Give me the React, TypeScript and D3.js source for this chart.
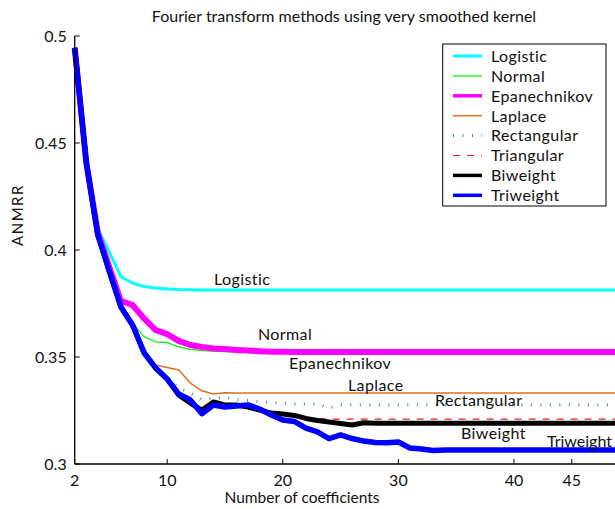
import React from "react"
import * as d3 from "d3"

// x = number of coefficients, 2..49
const coefs = d3.range(2, 50)

const logistic = [
  0.4945, 0.441, 0.410, 0.399, 0.3875, 0.3846, 0.3829, 0.3822, 0.3818, 0.3815,
  0.3814, 0.3813, 0.3813, 0.3813, 0.3813, 0.3813, 0.3813, 0.3813, 0.3813, 0.3813,
  0.3813, 0.3813, 0.3813, 0.3813, 0.3813, 0.3813, 0.3813, 0.3813, 0.3813, 0.3813,
  0.3813, 0.3813, 0.3813, 0.3813, 0.3813, 0.3813, 0.3813, 0.3813, 0.3813, 0.3813,
  0.3813, 0.3813, 0.3813, 0.3813, 0.3813, 0.3813, 0.3813, 0.3813,
]
const normal = [
  0.4945, 0.441, 0.407, 0.390, 0.3735, 0.366, 0.3595, 0.3571, 0.3567, 0.3547,
  0.3536, 0.353, 0.3527, 0.3525, 0.3524, 0.3524, 0.3523, 0.3523, 0.3523, 0.3523,
  0.3523, 0.3523, 0.3523, 0.3523, 0.3523, 0.3523, 0.3523, 0.3523, 0.3523, 0.3523,
  0.3523, 0.3523, 0.3523, 0.3523, 0.3523, 0.3523, 0.3523, 0.3523, 0.3523, 0.3523,
  0.3523, 0.3523, 0.3523, 0.3523, 0.3523, 0.3523, 0.3523, 0.3523,
]
const epanechnikov = [
  0.4945, 0.441, 0.408, 0.392, 0.3762, 0.3743, 0.368, 0.3626, 0.3607, 0.3575,
  0.3556, 0.3547, 0.354, 0.3537, 0.3533, 0.353, 0.3527, 0.3525, 0.3524, 0.3523,
  0.3523, 0.3523, 0.3523, 0.3523, 0.3523, 0.3523, 0.3523, 0.3523, 0.3523, 0.3523,
  0.3523, 0.3523, 0.3523, 0.3523, 0.3523, 0.3523, 0.3523, 0.3523, 0.3523, 0.3523,
  0.3523, 0.3523, 0.3523, 0.3523, 0.3523, 0.3523, 0.3523, 0.3523,
]
const laplace = [
  0.4945, 0.441, 0.407, 0.390, 0.3738, 0.365, 0.353, 0.3463, 0.3451, 0.3439,
  0.3378, 0.3342, 0.3327, 0.3333, 0.3332, 0.3332, 0.3332, 0.3332, 0.3332, 0.3332,
  0.3332, 0.3332, 0.3332, 0.3332, 0.3332, 0.3332, 0.3332, 0.3332, 0.3332, 0.3332,
  0.3332, 0.3332, 0.3332, 0.3332, 0.3332, 0.3332, 0.3332, 0.3332, 0.3332, 0.3332,
  0.3332, 0.3332, 0.3332, 0.3332, 0.3332, 0.3332, 0.3332, 0.3332,
]
const rectangular = [
  0.4945, 0.441, 0.407, 0.390, 0.3734, 0.365, 0.352, 0.3449, 0.3399, 0.3355,
  0.3332, 0.3301, 0.3307, 0.3312, 0.3301, 0.3297, 0.3291, 0.3287, 0.3284, 0.328,
  0.328, 0.328, 0.3262, 0.3277, 0.3277, 0.3277, 0.3277, 0.3277, 0.3277, 0.3277,
  0.3277, 0.3277, 0.3277, 0.3277, 0.3277, 0.3277, 0.3277, 0.3277, 0.3277, 0.3277,
  0.3277, 0.3277, 0.3277, 0.3277, 0.3277, 0.3277, 0.3277, 0.3277,
]
const triangular = [
  0.4945, 0.441, 0.407, 0.390, 0.3734, 0.365, 0.352, 0.3449, 0.3397, 0.3335,
  0.3300, 0.3255, 0.3290, 0.3278, 0.3278, 0.3268, 0.3255, 0.3242, 0.3238, 0.3230,
  0.3218, 0.3212, 0.321, 0.321, 0.321, 0.321, 0.321, 0.321, 0.321, 0.321,
  0.321, 0.321, 0.321, 0.321, 0.321, 0.321, 0.321, 0.321, 0.321, 0.321,
  0.321, 0.321, 0.321, 0.321, 0.321, 0.321, 0.321, 0.321,
]
const biweight = [
  0.4945, 0.441, 0.407, 0.390, 0.3734, 0.365, 0.352, 0.3449, 0.3397, 0.3322,
  0.3285, 0.3252, 0.329, 0.3276, 0.3276, 0.3266, 0.3252, 0.3238, 0.3234, 0.3227,
  0.3213, 0.3203, 0.3196, 0.3189, 0.3182, 0.3193, 0.319, 0.319, 0.319, 0.319,
  0.319, 0.319, 0.319, 0.319, 0.319, 0.319, 0.319, 0.319, 0.319, 0.319,
  0.319, 0.319, 0.319, 0.319, 0.319, 0.319, 0.319, 0.319,
]
const triweight = [
  0.4945, 0.441, 0.407, 0.390, 0.3734, 0.365, 0.352, 0.3449, 0.3397, 0.3327,
  0.3299, 0.3235, 0.3276, 0.3266, 0.3271, 0.3276, 0.3257, 0.3229, 0.3206, 0.3199,
  0.3168, 0.315, 0.3119, 0.3136, 0.3119, 0.3107, 0.31, 0.3099, 0.3103, 0.3075,
  0.307, 0.3063, 0.3065, 0.3065, 0.3065, 0.3065, 0.3065, 0.3065, 0.3065, 0.3065,
  0.3065, 0.3065, 0.3065, 0.3065, 0.3065, 0.3065, 0.3065, 0.3065,
]

const xTicks = [2, 10, 20, 30, 40, 45]
const yTicks = [0.3, 0.35, 0.4, 0.45, 0.5]

const series = [
  { name: "Logistic", values: logistic, color: "#00ffff", width: 3, dash: null, label: [214, 285], ls: 0.4 },
  { name: "Normal", values: normal, color: "#00ee00", width: 1.2, dash: null, label: [258, 340], ls: 0.4 },
  { name: "Epanechnikov", values: epanechnikov, color: "#ff00ff", width: 6, dash: null, label: [289, 369], ls: 0.4 },
  { name: "Laplace", values: laplace, color: "#e07020", width: 1.5, dash: null, label: [348, 391], ls: 0.4 },
  { name: "Rectangular", values: rectangular, color: "#2a9d9d", width: 3, dash: "1,8.5", label: [435, 406], ls: 0.4 },
  { name: "Triangular", values: triangular, color: "#e82020", width: 1.2, dash: "7,7", label: null, ls: 0.4 },
  { name: "Biweight", values: biweight, color: "#000000", width: 5, dash: null, label: [461, 439], ls: 0.4 },
  { name: "Triweight", values: triweight, color: "#0000ff", width: 5.5, dash: null, label: [547, 447], ls: 0 },
]

const font = "Lato, 'Open Sans', sans-serif"

export default function App() {
  const x = d3.scaleLinear().domain([2, 50]).range([74.7, 629.6])
  const y = d3.scaleLinear().domain([0.3, 0.5]).range([464, 36])
  const line = d3.line<number>()
    .x((d, i) => x(coefs[i]))
    .y(d => y(d))

  return (
    <svg width={615} height={509} style={{ position: "absolute", left: 0, top: 0, background: "#fff" }}>
      <text x={344} y={22} textAnchor="middle" fontFamily={font} fontSize={16} fill="#111">
        Fourier transform methods using very smoothed kernel
      </text>

      {series.map(s => (
        <path key={s.name} d={line(s.values) || ""} fill="none" stroke={s.color}
          strokeWidth={s.width} strokeDasharray={s.dash || undefined} strokeLinejoin="round" />
      ))}

      {/* axes */}
      <line x1={x(2)} x2={x(2)} y1={y(0.5)} y2={y(0.3)} stroke="#000" strokeWidth={1.3} />
      <line x1={x(2)} x2={615} y1={y(0.3)} y2={y(0.3)} stroke="#000" strokeWidth={1.3} />
      {yTicks.map(t => (
        <g key={t}>
          <line x1={x(2)} x2={x(2) + 5} y1={y(t)} y2={y(t)} stroke="#000" />
          <text x={x(2) - 8} y={y(t) + 5.5} textAnchor="end" fontFamily={font} fontSize={16} fill="#111">
            {d3.format("")(t)}
          </text>
        </g>
      ))}
      {xTicks.map(t => (
        <g key={t}>
          <line x1={x(t)} x2={x(t)} y1={y(0.3)} y2={y(0.3) - 5} stroke="#000" />
          <text x={x(t)} y={486} textAnchor="middle" fontFamily={font} fontSize={16} fill="#111">{t}</text>
        </g>
      ))}
      <text x={302} y={503} textAnchor="middle" fontFamily={font} fontSize={15.5} fill="#111">
        Number of coefficients
      </text>
      <text transform="translate(23,215) rotate(-90)" textAnchor="middle" fontFamily={font} fontSize={15}
        letterSpacing={1.5} fill="#111">
        ANMRR
      </text>

      {/* in-plot labels */}
      {series.filter(s => s.label).map(s => (
        <text key={s.name} x={s.label![0]} y={s.label![1]} fontFamily={font} fontSize={16}
          letterSpacing={s.ls} fill="#111">
          {s.name}
        </text>
      ))}

      {/* legend */}
      <rect x={442.7} y={44} width={163.3} height={162} fill="#fff" stroke="#000" strokeWidth={1} />
      {series.map((s, i) => {
        const ly = 56 + i * 19.9
        return (
          <g key={s.name}>
            <line x1={453} x2={482} y1={ly} y2={ly} stroke={s.color}
              strokeWidth={Math.min(s.width, 3.5)} strokeDasharray={s.dash || undefined} />
            <text x={491} y={ly + 5.8} fontFamily={font} fontSize={16} letterSpacing={0.4} fill="#111">{s.name}</text>
          </g>
        )
      })}
    </svg>
  )
}
